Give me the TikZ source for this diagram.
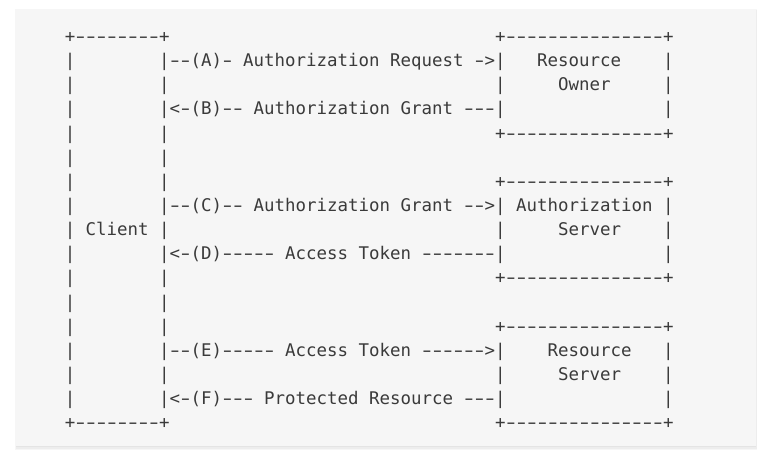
\documentclass[tikz,border=0pt]{standalone}
\usepackage{graphicx}
\usepackage{fontspec}
\newfontfamily\asc{DejaVu Sans Mono}
\definecolor{txt}{HTML}{3A3A3A}
\definecolor{panel}{HTML}{F6F6F6}
\newcommand\gapn[1]{\hspace*{#1\fontcharwd\font`\M}}
\newcommand\hy{\makebox[\fontcharwd\font`\M]{\scalebox{1.55}[1]{-}}}
\newcommand\hyn[1]{\begingroup\count255=#1\relax\loop\hy\advance\count255 -1\relax\ifnum\count255>0 \repeat\endgroup}
\tikzset{
  ascline/.style={anchor=base west, inner sep=0pt, outer sep=0pt, text=txt,
    font=\asc\fontsize{17.44}{20}\selectfont},
  shade1/.style={fill=black, opacity=0.035}
}
\begin{document}
\begin{tikzpicture}[x=1pt,y=1pt]
\useasboundingbox[fill=white] (0,0) rectangle (770,467);
% soft shadow of the panel
\fill[shade1] (15,17) rectangle (757,457.5);
\fill[shade1] (15.5,18.5) rectangle (756.5,457.2);
\fill[shade1] (16,20) rectangle (756,457);
\fill[panel] (16,21) rectangle (756,457);
% ASCII lines
\def\xa{64.75}
\node[ascline] (l1)  at (\xa,{467-42.4-0*24.15})  {+\hyn{8}+\gapn{31}+\hyn{15}+};
\node[ascline] (l2)  at (\xa,{467-42.4-1*24.15})  {|\gapn{8}|\hyn{2}(A)\hy{} Authorization Request \hy>|\gapn{3}Resource\gapn{4}|};
\node[ascline] (l3)  at (\xa,{467-42.4-2*24.15})  {|\gapn{8}|\gapn{31}|\gapn{5}Owner\gapn{5}|};
\node[ascline] (l4)  at (\xa,{467-42.4-3*24.15})  {|\gapn{8}|<\hy(B)\hyn{2} Authorization Grant \hyn{3}|\gapn{15}|};
\node[ascline] (l5)  at (\xa,{467-42.4-4*24.15})  {|\gapn{8}|\gapn{31}+\hyn{15}+};
\node[ascline] (l6)  at (\xa,{467-42.4-5*24.15})  {|\gapn{8}|};
\node[ascline] (l7)  at (\xa,{467-42.4-6*24.15})  {|\gapn{8}|\gapn{31}+\hyn{15}+};
\node[ascline] (l8)  at (\xa,{467-42.4-7*24.15})  {|\gapn{8}|\hyn{2}(C)\hyn{2} Authorization Grant \hyn{2}>| Authorization |};
\node[ascline] (l9)  at (\xa,{467-42.4-8*24.15})  {| Client |\gapn{31}|\gapn{5}Server\gapn{4}|};
\node[ascline] (l10) at (\xa,{467-42.4-9*24.15})  {|\gapn{8}|<\hy(D)\hyn{5} Access Token \hyn{7}|\gapn{15}|};
\node[ascline] (l11) at (\xa,{467-42.4-10*24.15}) {|\gapn{8}|\gapn{31}+\hyn{15}+};
\node[ascline] (l12) at (\xa,{467-42.4-11*24.15}) {|\gapn{8}|};
\node[ascline] (l13) at (\xa,{467-42.4-12*24.15}) {|\gapn{8}|\gapn{31}+\hyn{15}+};
\node[ascline] (l14) at (\xa,{467-42.4-13*24.15}) {|\gapn{8}|\hyn{2}(E)\hyn{5} Access Token \hyn{6}>|\gapn{4}Resource\gapn{3}|};
\node[ascline] (l15) at (\xa,{467-42.4-14*24.15}) {|\gapn{8}|\gapn{31}|\gapn{5}Server\gapn{4}|};
\node[ascline] (l16) at (\xa,{467-42.4-15*24.15}) {|\gapn{8}|<\hy(F)\hyn{3} Protected Resource \hyn{3}|\gapn{15}|};
\node[ascline] (l17) at (\xa,{467-42.4-16*24.15}) {+\hyn{8}+\gapn{31}+\hyn{15}+};
\end{tikzpicture}
\end{document}
